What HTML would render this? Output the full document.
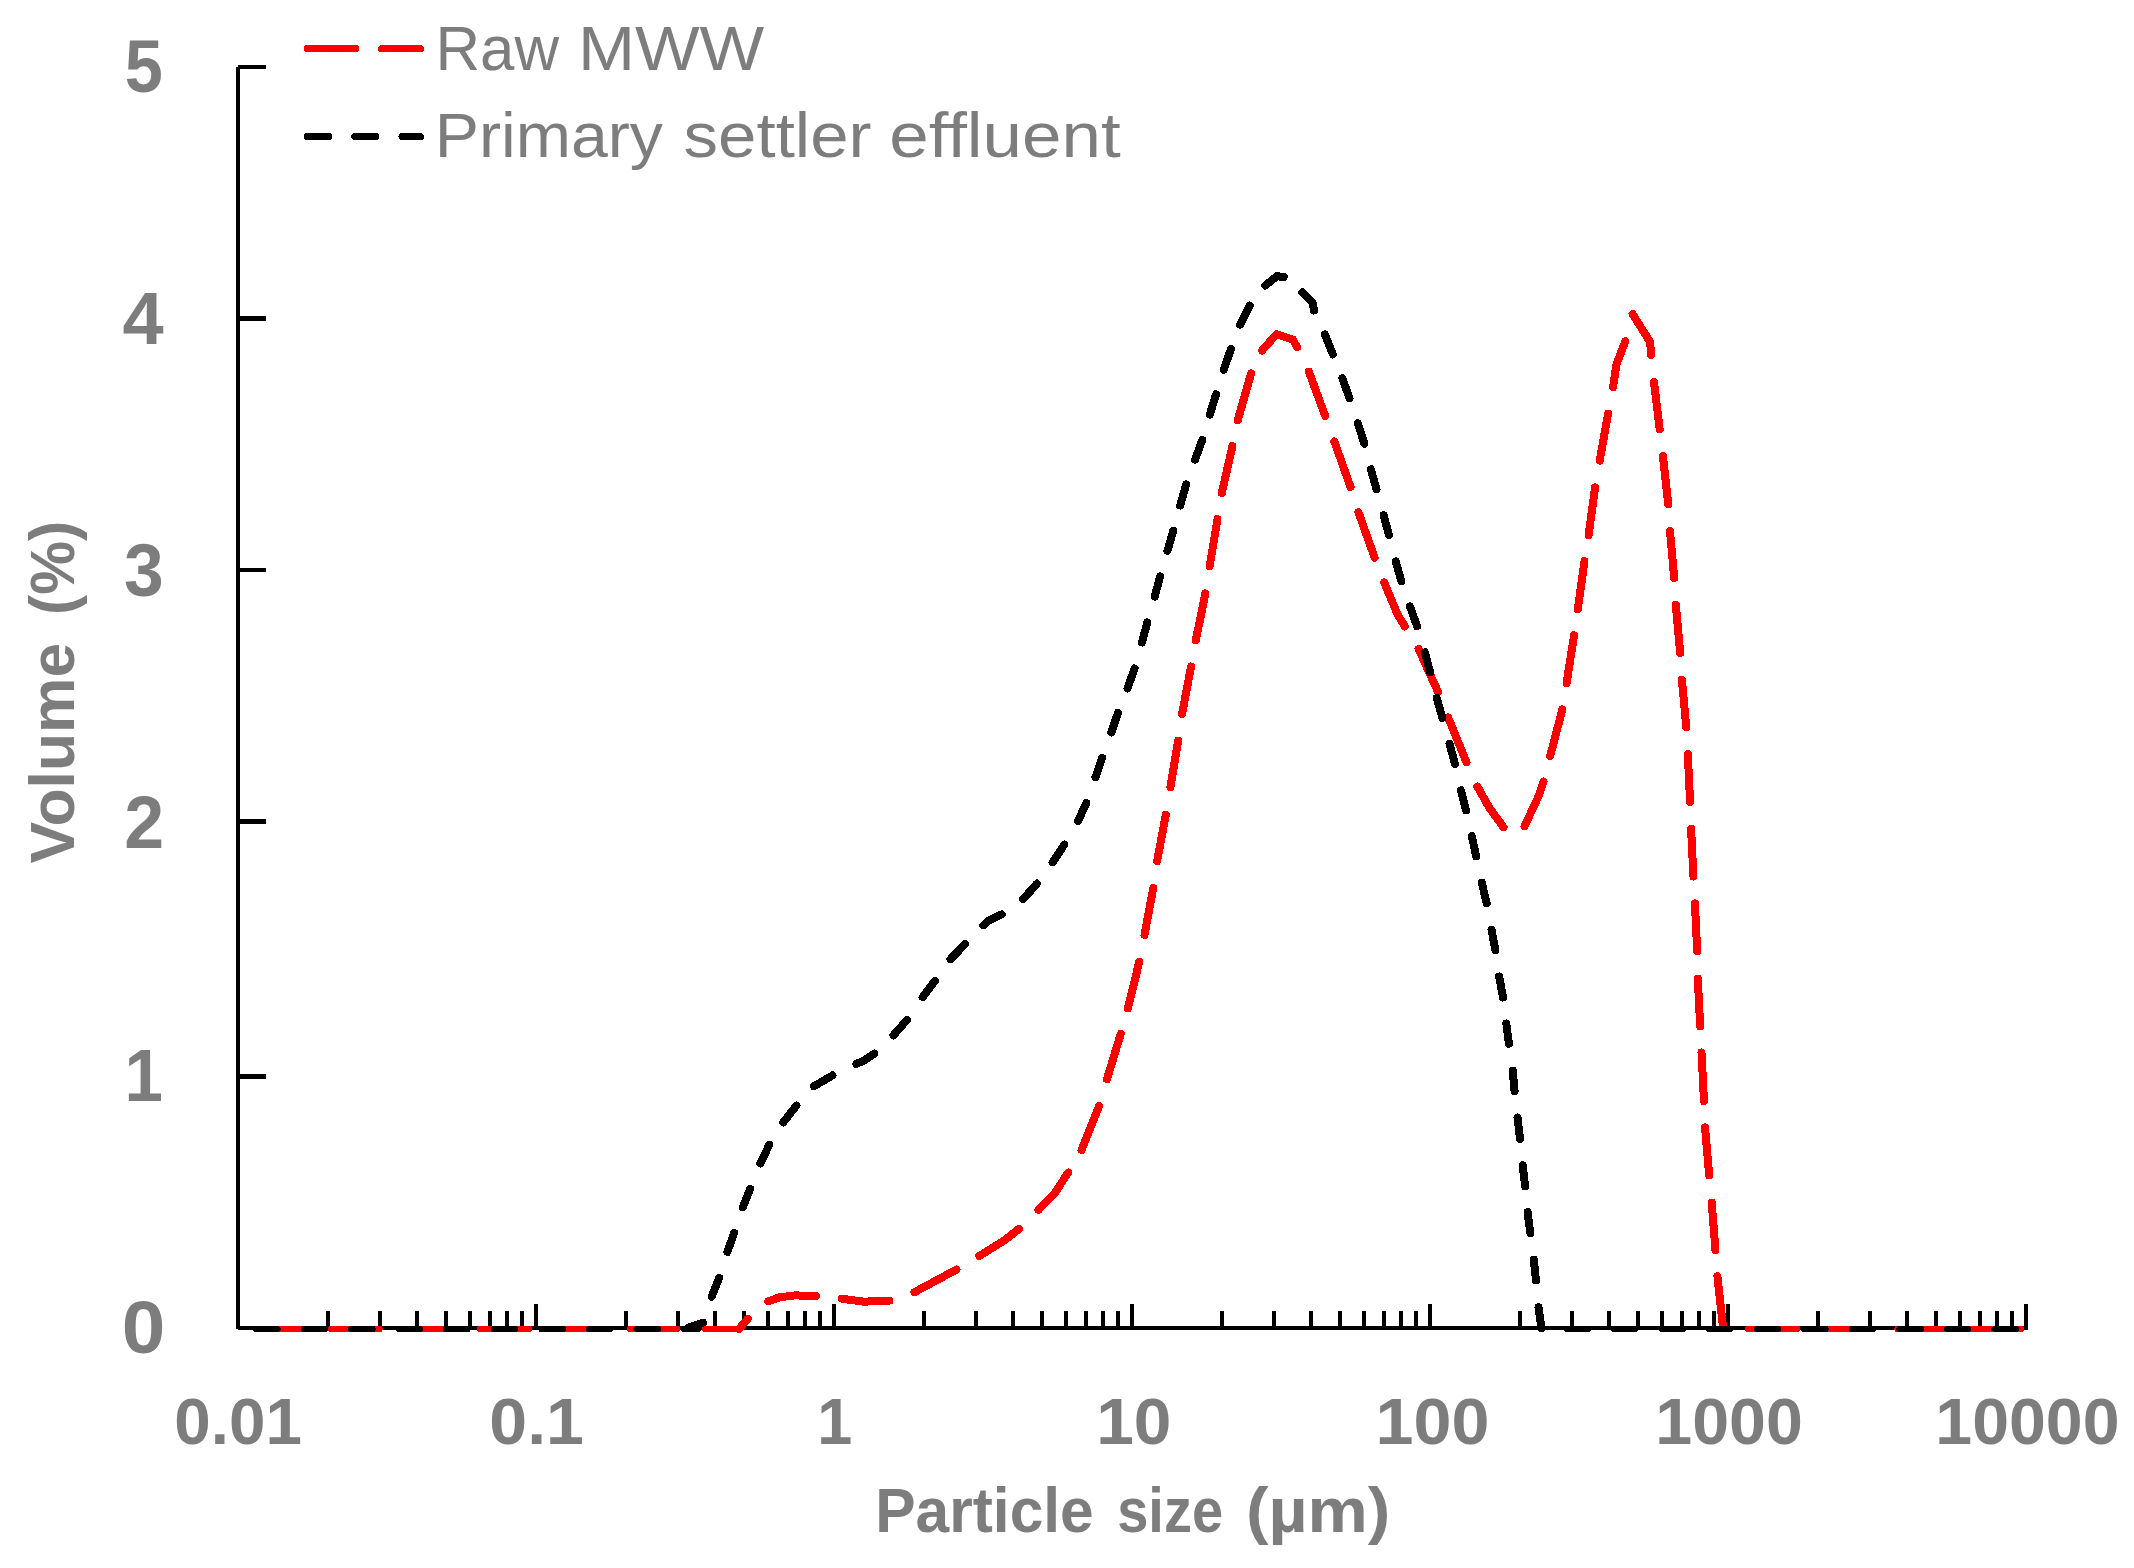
<!DOCTYPE html>
<html lang="en"><head><meta charset="utf-8"><title>Particle size distribution</title>
<style>html,body{margin:0;padding:0;background:#fff}svg{display:block}text{font-family:"Liberation Sans",sans-serif;fill:#7d7d7d}.b{font-weight:700}</style></head><body>
<svg width="2134" height="1568" viewBox="0 0 2134 1568">
<rect width="2134" height="1568" fill="#fff"/>
<g stroke="#000" stroke-width="4" fill="none" shape-rendering="crispEdges">
<path d="M238.0 67.0 V1329.0"/>
<path d="M238.0 1328.0 H2028.0"/>
<rect x="238" y="65" width="28" height="4" fill="#000" stroke="none"/>
<rect x="238" y="316" width="28" height="5" fill="#000" stroke="none"/>
<rect x="238" y="568" width="28" height="4" fill="#000" stroke="none"/>
<rect x="238" y="819" width="28" height="5" fill="#000" stroke="none"/>
<rect x="238" y="1074" width="28" height="5" fill="#000" stroke="none"/>
<path d="M327.7 1311 V1328.0 M380.2 1311 V1328.0 M417.4 1311 V1328.0 M446.3 1311 V1328.0 M469.9 1311 V1328.0 M489.8 1311 V1328.0 M507.1 1311 V1328.0 M522.4 1311 V1328.0 M625.7 1311 V1328.0 M678.2 1311 V1328.0 M715.4 1311 V1328.0 M744.3 1311 V1328.0 M767.9 1311 V1328.0 M787.8 1311 V1328.0 M805.1 1311 V1328.0 M820.4 1311 V1328.0 M923.7 1311 V1328.0 M976.2 1311 V1328.0 M1013.4 1311 V1328.0 M1042.3 1311 V1328.0 M1065.9 1311 V1328.0 M1085.8 1311 V1328.0 M1103.1 1311 V1328.0 M1118.4 1311 V1328.0 M1221.7 1311 V1328.0 M1274.2 1311 V1328.0 M1311.4 1311 V1328.0 M1340.3 1311 V1328.0 M1363.9 1311 V1328.0 M1383.8 1311 V1328.0 M1401.1 1311 V1328.0 M1416.4 1311 V1328.0 M1519.7 1311 V1328.0 M1572.2 1311 V1328.0 M1609.4 1311 V1328.0 M1638.3 1311 V1328.0 M1661.9 1311 V1328.0 M1681.8 1311 V1328.0 M1699.1 1311 V1328.0 M1714.4 1311 V1328.0 M1817.7 1311 V1328.0 M1870.2 1311 V1328.0 M1907.4 1311 V1328.0 M1936.3 1311 V1328.0 M1959.9 1311 V1328.0 M1979.8 1311 V1328.0 M1997.1 1311 V1328.0 M2012.4 1311 V1328.0 M536.0 1304 V1328.0 M834.0 1304 V1328.0 M1132.0 1304 V1328.0 M1430.0 1304 V1328.0 M1728.0 1304 V1328.0 M2026.0 1304 V1329.0"/>
</g>
<g fill="none" stroke-width="8.0" stroke-linecap="round" stroke-linejoin="round" shape-rendering="crispEdges">
<g stroke="#f00">
<path d="M256.0 1329.0 H677.5" stroke-width="6" stroke-dasharray="49.0 25.7"/>
<path d="M739.0 1329.0 L747.9 1318.7 M768.2 1301.4 L779.5 1297.3 L794.8 1295.4 L815.8 1296.0 M841.7 1298.7 L863.7 1301.7 L889.5 1300.6 M914.4 1292.2 L956.4 1269.6 M979.3 1256.0 L1005.0 1240.0 L1019.0 1228.8 M1038.5 1209.9 L1054.8 1193.0 L1068.2 1172.6 M1081.6 1150.0 L1091.1 1126.1 L1099.2 1106.0 M1106.9 1079.3 L1120.8 1033.8 M1127.9 1008.2 L1139.3 961.7 M1144.5 934.9 L1153.3 888.0 M1157.1 861.2 L1165.8 814.8 M1170.4 787.0 L1178.2 740.7 M1182.1 713.9 L1191.1 666.5 M1195.8 640.2 L1205.4 593.4 M1209.6 566.4 L1217.5 519.1 M1221.8 493.1 L1232.4 446.2 M1237.7 420.4 L1251.1 373.5 M1262.0 350.5 L1276.5 334.3 L1293.0 339.6 L1297.0 347.3 M1308.9 371.6 L1325.2 416.0 M1334.3 441.4 L1350.6 487.1 M1358.5 512.2 L1374.6 557.7 M1384.2 582.4 L1397.6 614.5 L1404.8 626.4 M1418.6 649.0 L1438.1 692.0 M1448.1 717.4 L1466.5 762.2 M1477.4 786.5 L1489.5 808.0 L1503.5 827.3 M1524.5 826.3 L1538.8 795.7 L1543.5 781.5 M1550.2 756.0 L1562.3 709.5 M1566.6 683.0 L1574.1 635.3 M1577.8 609.1 L1584.5 561.1 M1588.6 535.2 L1595.1 487.4 M1599.7 460.7 L1608.1 413.6 M1613.0 387.2 L1616.5 364.3 L1625.3 341.3 M1632.6 314.1 L1650.2 342.1 L1651.0 355.1 M1654.0 381.9 L1659.7 429.3 M1662.9 456.1 L1668.3 504.3 M1670.0 531.0 L1674.2 578.1 M1675.8 604.8 L1680.2 653.1 M1681.9 679.8 L1686.3 727.3 M1687.8 754.1 L1690.1 802.0 M1691.1 828.8 L1693.4 876.6 M1694.9 903.4 L1697.2 951.2 M1697.8 978.6 L1700.2 1026.4 M1701.5 1052.5 L1704.0 1101.2 M1705.0 1127.4 L1709.2 1175.3 M1711.7 1202.6 L1715.5 1250.5 M1717.4 1276.3 L1722.8 1325.0"/>
<path d="M704.6 1329.0 H739" stroke-width="6"/>
<path d="M1747.9 1329.0 H2022" stroke-width="6" stroke-dasharray="49.0 25.7"/>
<path d="M307.4 48.5 H420.5" stroke-width="7" stroke-dasharray="48.2 25.9"/>
</g>
<g stroke="#000">
<path d="M256.0 1329.0 H658" stroke-width="6" stroke-dasharray="21.6 25.95"/>
<path d="M689.0 1327.2 L703.0 1322.8 M711.6 1296.8 L719.2 1277.8 M727.4 1252.0 L734.1 1232.9 M742.8 1207.4 L750.2 1188.9 M760.4 1163.4 L769.3 1144.7 M783.3 1122.3 L796.3 1105.6 M813.9 1086.3 L832.5 1075.4 M856.4 1063.9 L864.5 1060.3 L874.3 1053.6 M893.5 1035.3 L906.9 1020.0 M922.6 997.1 L935.0 980.8 M950.5 959.2 L965.2 943.9 M983.4 925.3 L988.2 920.9 L1001.6 914.4 M1023.2 899.1 L1037.0 883.6 M1052.7 862.2 L1064.3 844.6 M1078.1 821.0 L1086.3 802.9 M1095.4 777.4 L1102.1 757.9 M1111.3 732.5 L1118.0 712.8 M1127.5 688.5 L1134.6 668.4 M1141.9 642.5 L1147.4 622.4 M1154.7 596.6 L1160.1 576.5 M1167.5 550.7 L1173.3 530.6 M1180.1 505.5 L1186.1 484.5 M1195.1 459.6 L1202.3 439.9 M1209.8 414.6 L1216.1 394.2 M1223.7 369.7 L1231.0 349.0 M1240.0 324.7 L1249.6 305.6 M1265.3 285.5 L1276.9 276.2 L1283.8 277.0 M1302.4 292.4 L1312.5 302.5 L1314.0 310.5 M1324.8 334.3 L1332.8 354.4 M1342.4 378.3 L1349.5 398.4 M1357.7 423.2 L1364.4 443.7 M1370.9 469.3 L1376.5 489.4 M1383.6 515.3 L1389.0 535.1 M1395.7 561.5 L1401.4 581.4 M1410.0 606.5 L1417.1 626.4 M1424.9 652.4 L1430.1 672.3 M1436.8 698.1 L1442.4 718.0 M1449.5 743.6 L1455.0 764.1 M1460.9 790.3 L1466.1 810.4 M1471.8 836.2 L1476.2 856.3 M1481.8 882.7 L1486.6 903.2 M1491.5 929.6 L1495.4 950.1 M1499.2 976.5 L1503.0 997.5 M1506.3 1023.5 L1508.9 1043.8 M1512.7 1070.6 L1514.6 1091.3 M1517.5 1117.5 L1520.0 1138.9 M1522.7 1165.3 L1525.1 1186.4 M1527.6 1212.2 L1530.3 1233.2 M1533.8 1259.6 L1536.0 1280.5 M1538.5 1307.3 L1541.4 1328.0"/>
<path d="M684.0 1329.0 H698" stroke-width="6"/>
<path d="M1566.4 1329.0 H2016" stroke-width="6" stroke-dasharray="21.6 25.95"/>
<path d="M307.4 136.5 H420.5" stroke-width="7" stroke-dasharray="21.2 26.1"/>
</g></g>
<text class="b" x="124.7" y="91.8" font-size="75.0" textLength="38.1" lengthAdjust="spacingAndGlyphs">5</text>
<text class="b" x="122.5" y="344.0" font-size="75.0" textLength="41.1" lengthAdjust="spacingAndGlyphs">4</text>
<text class="b" x="124.1" y="596.2" font-size="75.0" textLength="39.7" lengthAdjust="spacingAndGlyphs">3</text>
<text class="b" x="124.3" y="848.4" font-size="75.0" textLength="39.9" lengthAdjust="spacingAndGlyphs">2</text>
<text class="b" x="124.6" y="1100.6" font-size="75.0" textLength="38.4" lengthAdjust="spacingAndGlyphs">1</text>
<text class="b" x="121.8" y="1352.8" font-size="75.0" textLength="43.6" lengthAdjust="spacingAndGlyphs">0</text>
<text class="b" x="174.3" y="1444.0" font-size="65.3" textLength="127.6" lengthAdjust="spacingAndGlyphs">0.01</text>
<text class="b" x="489.3" y="1444.0" font-size="65.3" textLength="94.6" lengthAdjust="spacingAndGlyphs">0.1</text>
<text class="b" x="817.2" y="1444.0" font-size="65.3" textLength="35.0" lengthAdjust="spacingAndGlyphs">1</text>
<text class="b" x="1096.2" y="1444.0" font-size="65.3" textLength="75.3" lengthAdjust="spacingAndGlyphs">10</text>
<text class="b" x="1375.4" y="1444.0" font-size="65.3" textLength="114.0" lengthAdjust="spacingAndGlyphs">100</text>
<text class="b" x="1655.3" y="1444.0" font-size="65.3" textLength="147.5" lengthAdjust="spacingAndGlyphs">1000</text>
<text class="b" x="1935.3" y="1444.0" font-size="65.3" textLength="184.2" lengthAdjust="spacingAndGlyphs">10000</text>
<text class="b" font-size="62.7"><tspan x="875.3" y="1531.6" textLength="218.4" lengthAdjust="spacingAndGlyphs">Particle</tspan> <tspan x="1117.2" y="1531.6" textLength="105.9" lengthAdjust="spacingAndGlyphs">size</tspan> <tspan x="1245.9" y="1531.6" textLength="144.5" lengthAdjust="spacingAndGlyphs">(µm)</tspan></text>
<text class="b" font-size="62.7" transform="translate(73.9 863) rotate(-90)"><tspan x="-0.5" y="0" textLength="220.6" lengthAdjust="spacingAndGlyphs">Volume</tspan> <tspan x="248.0" y="0" textLength="94.3" lengthAdjust="spacingAndGlyphs">(%)</tspan></text>
<text font-size="62.5"><tspan x="435.5" y="70.4" textLength="123.6" lengthAdjust="spacingAndGlyphs">Raw</tspan> <tspan x="577.9" y="70.4" textLength="186.4" lengthAdjust="spacingAndGlyphs">MWW</tspan></text>
<text font-size="62.5"><tspan x="434.7" y="157.3" textLength="228.3" lengthAdjust="spacingAndGlyphs">Primary</tspan> <tspan x="683.6" y="157.3" textLength="187.9" lengthAdjust="spacingAndGlyphs">settler</tspan> <tspan x="889.3" y="157.3" textLength="231.3" lengthAdjust="spacingAndGlyphs">effluent</tspan></text>
</svg></body></html>
